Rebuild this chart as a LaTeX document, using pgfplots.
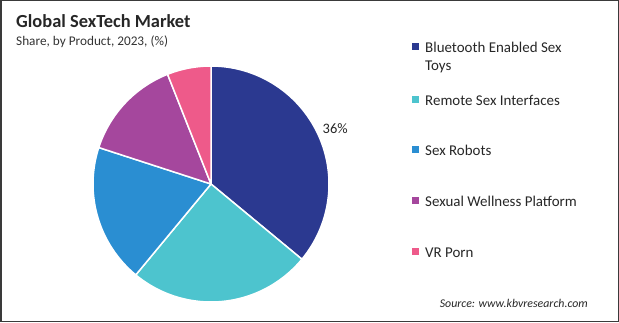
\documentclass[border=0pt]{standalone}
\usepackage{pgfplots}
\pgfplotsset{compat=1.18}
\usepackage{fontspec}
\setmainfont{Carlito}
\definecolor{c1}{HTML}{2B3990}
\definecolor{c2}{HTML}{4DC4CE}
\definecolor{c3}{HTML}{2A8ED2}
\definecolor{c4}{HTML}{A5479D}
\definecolor{c5}{HTML}{EE5A8A}
\definecolor{frame}{HTML}{3A3A3A}
% shares (%): Bluetooth 36, Remote 25, Robots 19, Wellness 14, VR 6
% angles: start at 90 deg, clockwise, 3.6 deg per percent
\begin{document}
\begin{tikzpicture}[x=1bp,y=1bp]
\draw[frame, line width=1.5bp] (0.75,0.75) rectangle (618.25,321.25);
\useasboundingbox (0,0) rectangle (619,322);
\node[anchor=base west, font=\fontsize{18.5}{21}\selectfont\bfseries, text=black!85, inner sep=0pt] at (16,295) {Global SexTech Market};
\node[anchor=base west, font=\fontsize{13.3}{15}\selectfont, text=black!80, inner sep=0pt] at (16,277) {Share, by Product, 2023, (\%)};
\begin{axis}[
  at={(211bp,138bp)}, anchor=center,
  scale only axis, width=236bp, height=236bp,
  xmin=-1, xmax=1, ymin=-1, ymax=1,
  hide axis, clip=false]
\fill[c1, draw=white, line width=1.5bp, line join=round] (axis cs:0,0) -- plot[domain=90:-39.6, samples=80, variable=\t] ({cos(\t)},{sin(\t)}) -- cycle;
\fill[c2, draw=white, line width=1.5bp, line join=round] (axis cs:0,0) -- plot[domain=-39.6:-129.6, samples=80, variable=\t] ({cos(\t)},{sin(\t)}) -- cycle;
\fill[c3, draw=white, line width=1.5bp, line join=round] (axis cs:0,0) -- plot[domain=-129.6:-198, samples=80, variable=\t] ({cos(\t)},{sin(\t)}) -- cycle;
\fill[c4, draw=white, line width=1.5bp, line join=round] (axis cs:0,0) -- plot[domain=-198:-248.4, samples=80, variable=\t] ({cos(\t)},{sin(\t)}) -- cycle;
\fill[c5, draw=white, line width=1.5bp, line join=round] (axis cs:0,0) -- plot[domain=-248.4:-270, samples=80, variable=\t] ({cos(\t)},{sin(\t)}) -- cycle;
\node[font=\fontsize{14.5}{16}\selectfont, text=black!85, anchor=base west, inner sep=0pt] at (axis cs:0.945,0.43) {36\%};
\end{axis}
\begin{scope}[font=\fontsize{15}{17}\selectfont]
\fill[c1] (412,272) rectangle (419,279);
\node[anchor=base west, text=black!85, inner sep=0pt] at (425,270) {Bluetooth Enabled Sex};
\node[anchor=base west, text=black!85, inner sep=0pt] at (425,252) {Toys};
\fill[c2] (412,219) rectangle (419,226);
\node[anchor=base west, text=black!85, inner sep=0pt] at (425,217) {Remote Sex Interfaces};
\fill[c3] (412,169) rectangle (419,176);
\node[anchor=base west, text=black!85, inner sep=0pt] at (425,167) {Sex Robots};
\fill[c4] (412,118) rectangle (419,125);
\node[anchor=base west, text=black!85, inner sep=0pt] at (425,116) {Sexual Wellness Platform};
\fill[c5] (412,67) rectangle (419,74);
\node[anchor=base west, text=black!85, inner sep=0pt] at (425,65) {VR Porn};
\end{scope}
\node[anchor=base east, font=\fontsize{11.9}{13}\selectfont\itshape, text=black!85, inner sep=0pt] at (588,15) {Source: www.kbvresearch.com};
\end{tikzpicture}
\end{document}
